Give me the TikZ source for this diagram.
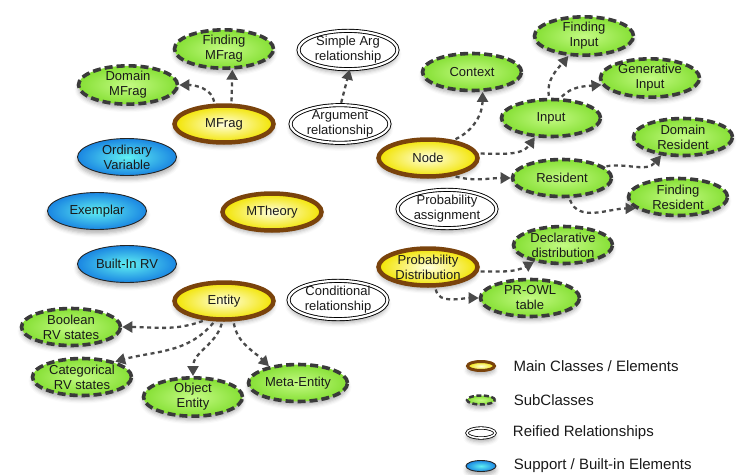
\documentclass[tikz,border=0pt]{standalone}
\usepackage{fontspec}
\setmainfont{Liberation Sans}
\usetikzlibrary{shapes.geometric,arrows.meta,shadows.blur,positioning}
\definecolor{mainbrown}{HTML}{7A430C}
\definecolor{mainin}{HTML}{FFFFE0}
\definecolor{mainout}{HTML}{F2E400}
\definecolor{subin}{HTML}{C4FA84}
\definecolor{subout}{HTML}{86E035}
\definecolor{subline}{HTML}{3A3A3A}
\definecolor{supin}{HTML}{60F0F2}
\definecolor{supout}{HTML}{1A86E2}
\definecolor{isagray}{HTML}{4A4A4A}
\tikzset{
  every node/.style={font=\fontsize{13}{15}\selectfont, align=center, text=black!90},
  oval/.style={ellipse, inner sep=0pt, minimum width=99pt, minimum height=37pt,
    blur shadow={shadow xshift=0pt, shadow yshift=-4pt, shadow blur radius=4pt, shadow opacity=30}},
  mainclass/.style={oval, draw=mainbrown, line width=4.5pt, inner color=mainin, outer color=mainout},
  subclass/.style={oval, draw=subline, line width=3.6pt, dash pattern=on 8pt off 4pt, inner color=subin, outer color=subout},
  reified/.style={oval, draw=black, line width=0.9pt, double=white, double distance=2.2pt, fill=white},
  support/.style={oval, draw=black!85, line width=0.9pt, inner color=supin, outer color=supout},
  isa/.style={draw=isagray, line width=2.3pt, dash pattern=on 4pt off 3.5pt, shorten <=2pt,
    -{Triangle[length=10pt,width=11pt]}},
  legend/.style={font=\fontsize{15}{18}\selectfont, right=14pt of #1}
}
\begin{document}
\begin{tikzpicture}[x=1pt,y=1pt]
  \useasboundingbox (0,0) rectangle (744,-474);
  \node[subclass] (findmfrag) at (224,-49) {Finding\\MFrag};
  \node[subclass] (dommfrag) at (128,-85) {Domain\\MFrag};
  \node[mainclass] (mfrag) at (224,-124) {MFrag};
  \node[reified] (simplearg) at (348,-50) {Simple Arg\\relationship};
  \node[reified] (argrel) at (340,-124) {Argument\\relationship};
  \node[support] (ordvar) at (127,-157) {Ordinary\\Variable};
  \node[support] (exemplar) at (97,-211) {Exemplar};
  \node[mainclass] (mtheory) at (272,-212) {MTheory};
  \node[support] (builtin) at (127,-264) {Built-In RV};
  \node[mainclass] (entity) at (224,-301) {Entity};
  \node[reified] (condrel) at (338,-300) {Conditional\\relationship};
  \node[subclass] (boolrv) at (71,-327) {Boolean\\RV states};
  \node[subclass] (catrv) at (82,-377) {Categorical\\RV states};
  \node[subclass] (objent) at (193,-397) {Object\\Entity};
  \node[subclass] (metaent) at (298,-383) {Meta-Entity};
  \node[subclass] (context) at (472,-72) {Context};
  \node[subclass] (findinput) at (584,-36) {Finding\\Input};
  \node[subclass] (geninput) at (650,-78) {Generative\\Input};
  \node[subclass] (input) at (551,-118) {Input};
  \node[mainclass] (nodecls) at (428,-158) {Node};
  \node[subclass] (domres) at (683,-137) {Domain\\Resident};
  \node[subclass] (resident) at (562,-178) {Resident};
  \node[subclass] (findres) at (678,-197) {Finding\\Resident};
  \node[reified] (probassign) at (447,-209) {Probability\\assignment};
  \node[subclass] (decldist) at (563,-245) {Declarative\\distribution};
  \node[mainclass] (probdist) at (428,-267) {Probability\\Distribution};
  \node[subclass] (prowl) at (530,-298) {PR-OWL\\table};

  \draw[isa] (mfrag.115) to[out=100,in=0] (dommfrag.east);
  \draw[isa] (mfrag.70) -- (findmfrag.-68);
  \draw[isa] (argrel.88) -- (simplearg.-85);
  \draw[isa] (nodecls.35) to[out=25,in=-90] (context.-62);
  \draw[isa] (nodecls.5) to[out=0,in=-125] (input.-130);
  \draw[isa] (nodecls.-35) to[out=-15,in=180] (resident.west);
  \draw[isa] (input.95) to[out=100,in=-130] (findinput.-128);
  \draw[isa] (input.65) to[out=45,in=185] (geninput.188);
  \draw[isa] (resident.15) to[out=10,in=-130] (domres.-140);
  \draw[isa] (resident.-70) to[out=-70,in=180] (findres.-165);
  \draw[isa] (probdist.-5) to[out=0,in=-150] (decldist.-150);
  \draw[isa] (probdist.-70) to[out=-80,in=180] (prowl.west);
  \draw[isa] (entity.-135) to[out=-160,in=0] (boolrv.east);
  \draw[isa] (entity.-115) to[out=-130,in=15] (catrv.25);
  \draw[isa] (entity.-95) to[out=-105,in=90] (objent.north);
  \draw[isa] (entity.-65) to[out=-80,in=135] (metaent.150);

  \node[mainclass, minimum width=27pt, minimum height=9pt, line width=3pt] (lgmain) at (481,-366) {};
  \node[subclass, minimum width=28pt, minimum height=9pt, line width=2.5pt, dash pattern=on 5pt off 2.5pt] (lgsub) at (481,-400) {};
  \node[reified, minimum width=28pt, minimum height=10pt, line width=0.8pt, double distance=1.6pt] (lgreif) at (481,-433) {};
  \node[support, minimum width=30pt, minimum height=11pt] (lgsup) at (481,-466) {};
  \node[legend=lgmain] (lgmaintxt) {Main Classes / Elements};
  \node[legend=lgsub] (lgsubtxt) {SubClasses};
  \node[legend=lgreif] (lgreiftxt) {Reified Relationships};
  \node[legend=lgsup] (lgsuptxt) {Support / Built-in Elements};
\end{tikzpicture}
\end{document}
